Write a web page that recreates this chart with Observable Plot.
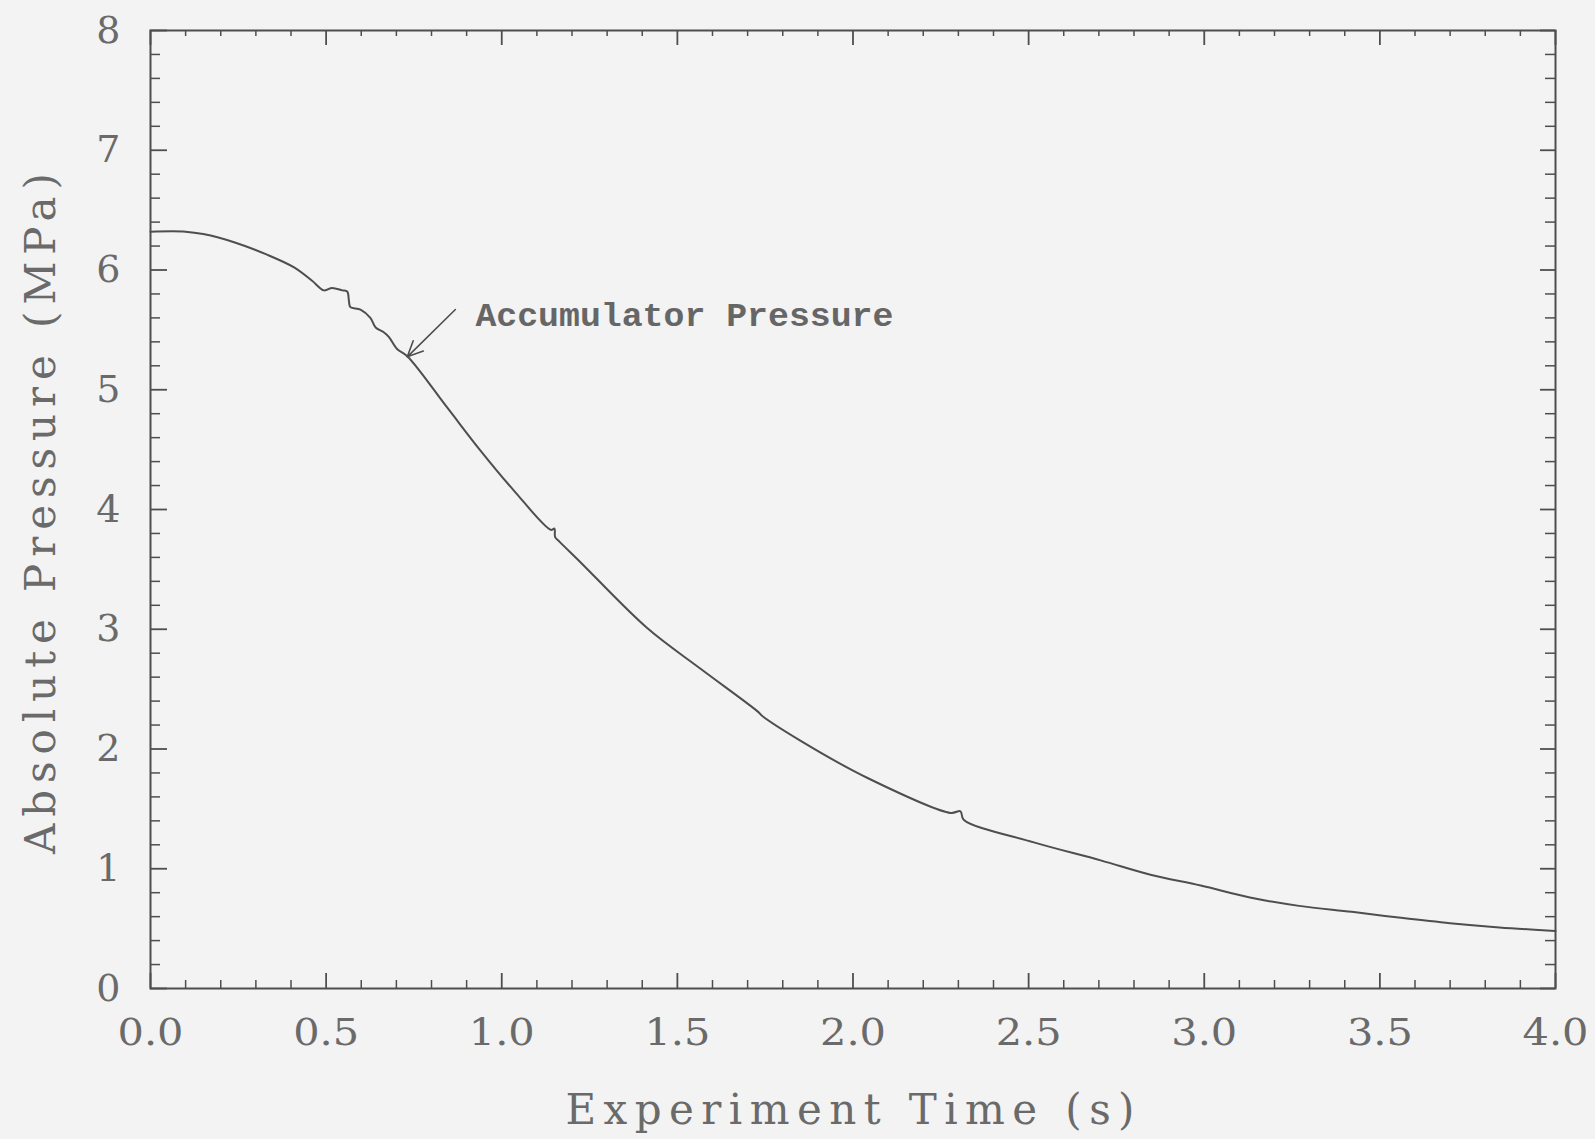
<!DOCTYPE html>
<html>
<head>
<meta charset="utf-8">
<script src="https://cdn.jsdelivr.net/npm/d3@7"></script>
<script src="https://cdn.jsdelivr.net/npm/@observablehq/plot@0.6"></script>
<style>
  html, body { margin: 0; padding: 0; background: #f3f3f3; }
  #chart svg { display: block; }
</style>
</head>
<body>
<div id="chart"></div>
<script>
// ---- data ----
const time = [0, 0.10, 0.15, 0.24, 0.33, 0.41, 0.46, 0.494, 0.517, 0.546, 0.560, 0.565, 0.569, 0.598, 0.626, 0.641, 0.664, 0.679, 0.702, 0.731, 0.845, 0.94, 1.034, 1.140, 1.150, 1.152, 1.165, 1.224, 1.414, 1.566, 1.730, 1.740, 1.85, 2.04, 2.278, 2.306, 2.315, 2.515, 2.705, 2.847, 2.99, 3.13, 3.27, 3.42, 3.56, 3.70, 3.84, 4.0];
const pressure = [6.32, 6.32, 6.30, 6.23, 6.13, 6.02, 5.91, 5.83, 5.85, 5.83, 5.82, 5.74, 5.69, 5.67, 5.60, 5.52, 5.48, 5.44, 5.34, 5.28, 4.85, 4.49, 4.16, 3.83, 3.84, 3.77, 3.73, 3.56, 3.01, 2.67, 2.31, 2.28, 2.07, 1.76, 1.466, 1.48, 1.41, 1.22, 1.07, 0.95, 0.86, 0.76, 0.69, 0.64, 0.59, 0.545, 0.51, 0.48];

const xMajorTicks = [0, 0.5, 1.0, 1.5, 2.0, 2.5, 3.0, 3.5, 4.0];
const xMinorTicks = [0.1, 0.2, 0.3, 0.4, 0.6, 0.7, 0.8, 0.9, 1.1, 1.2, 1.3, 1.4, 1.6, 1.7, 1.8, 1.9, 2.1, 2.2, 2.3, 2.4, 2.6, 2.7, 2.8, 2.9, 3.1, 3.2, 3.3, 3.4, 3.6, 3.7, 3.8, 3.9];
const yMajorTicks = [0, 1, 2, 3, 4, 5, 6, 7, 8];
const yMinorTicks = [0.2, 0.4, 0.6, 0.8, 1.2, 1.4, 1.6, 1.8, 2.2, 2.4, 2.6, 2.8, 3.2, 3.4, 3.6, 3.8, 4.2, 4.4, 4.6, 4.8, 5.2, 5.4, 5.6, 5.8, 6.2, 6.4, 6.6, 6.8, 7.2, 7.4, 7.6, 7.8];

const xTitle = "Experiment Time (s)";
const yTitle = "Absolute Pressure (MPa)";

const annotationText = ["Accumulator Pressure"];
const annotationX = [0.925];
const annotationY = [5.62];
const arrowFrom = [0.868, 5.67];
const arrowTo = [0.731, 5.275];

// ---- build ----
const W = 1595, H = 1139;
const mL = 150, mR = 40, mT = 30, mB = 151;
const innerW = W - mL - mR, innerH = H - mT - mB;
const ink = "#4e4e4e";
const textInk = "#6a6a6a";

const series = time.map((t, i) => ({t, p: pressure[i]}));
const arrows = [{x1: arrowFrom[0], y1: arrowFrom[1], x2: arrowTo[0], y2: arrowTo[1]}];
const annos = annotationText.map((s, i) => ({s, x: annotationX[i], y: annotationY[i]}));

const serif = "'DejaVu Serif', 'Liberation Serif', serif";
const mono = "'Liberation Mono', 'DejaVu Sans Mono', monospace";

const chart = Plot.plot({
  width: W,
  height: H,
  marginLeft: mL, marginRight: mR, marginTop: mT, marginBottom: mB,
  style: {background: "#f3f3f3", fontFamily: serif, color: textInk},
  x: {domain: [0, 4]},
  y: {domain: [0, 8]},
  marks: [
    Plot.frame({stroke: ink, strokeWidth: 2}),
    // inward minor/major ticks, bottom and top
    Plot.ruleX(xMinorTicks, {x: d => d, insetTop: innerH - 8, stroke: ink, strokeWidth: 1.5}),
    Plot.ruleX(xMajorTicks, {x: d => d, insetTop: innerH - 15, stroke: ink, strokeWidth: 1.8}),
    Plot.ruleX(xMinorTicks, {x: d => d, insetBottom: innerH - 6, stroke: ink, strokeWidth: 1.5}),
    Plot.ruleX(xMajorTicks, {x: d => d, insetBottom: innerH - 15, stroke: ink, strokeWidth: 1.8}),
    // left and right
    Plot.ruleY(yMinorTicks, {y: d => d, insetRight: innerW - 10, stroke: ink, strokeWidth: 1.5}),
    Plot.ruleY(yMajorTicks, {y: d => d, insetRight: innerW - 17, stroke: ink, strokeWidth: 1.8}),
    Plot.ruleY(yMinorTicks, {y: d => d, insetLeft: innerW - 10, stroke: ink, strokeWidth: 1.5}),
    Plot.ruleY(yMajorTicks, {y: d => d, insetLeft: innerW - 15, stroke: ink, strokeWidth: 1.8}),
    Plot.axisX({ticks: xMajorTicks, tickFormat: d => d.toFixed(1), tickSize: 0, tickPadding: 30, fontSize: 38, fill: textInk, label: null}),
    Plot.axisY({ticks: yMajorTicks, tickFormat: d => String(d), tickSize: 0, tickPadding: 30, fontSize: 38, fill: textInk, label: null}),
    Plot.text([xTitle], {text: d => d, frameAnchor: "bottom", textAnchor: "middle", lineAnchor: "middle", dy: 122, dx: -3, fontSize: 42, fill: textInk}),
    Plot.text([yTitle], {text: d => d, frameAnchor: "left", textAnchor: "middle", lineAnchor: "middle", dx: -109, dy: 4, rotate: -90, fontSize: 42, fill: textInk}),
    Plot.line(series, {x: "t", y: "p", stroke: ink, strokeWidth: 2, curve: "catmull-rom"}),
    Plot.arrow(arrows, {x1: "x1", y1: "y1", x2: "x2", y2: "y2", stroke: ink, strokeWidth: 1.6, headLength: 16, headAngle: 50}),
    Plot.text(annos, {x: "x", y: "y", text: "s", textAnchor: "start", fontSize: 34, fontWeight: "bold", fontFamily: mono, fill: "#666"})
  ]
});

document.getElementById("chart").appendChild(chart);

// stretch the lettering like the wide plotter font of the original
const svg = d3.select(chart);
svg.selectAll('g[aria-label="x-axis tick label"] text')
  .attr("textLength", 66).attr("lengthAdjust", "spacingAndGlyphs");
svg.selectAll("text").each(function() {
  const t = this.textContent;
  if (t === xTitle) d3.select(this).attr("textLength", 569).attr("lengthAdjust", "spacing");
  if (t === yTitle) d3.select(this).attr("textLength", 681).attr("lengthAdjust", "spacing");
  if (t === annotationText[0]) d3.select(this).attr("textLength", 418).attr("lengthAdjust", "spacingAndGlyphs");
});
</script>
</body>
</html>
